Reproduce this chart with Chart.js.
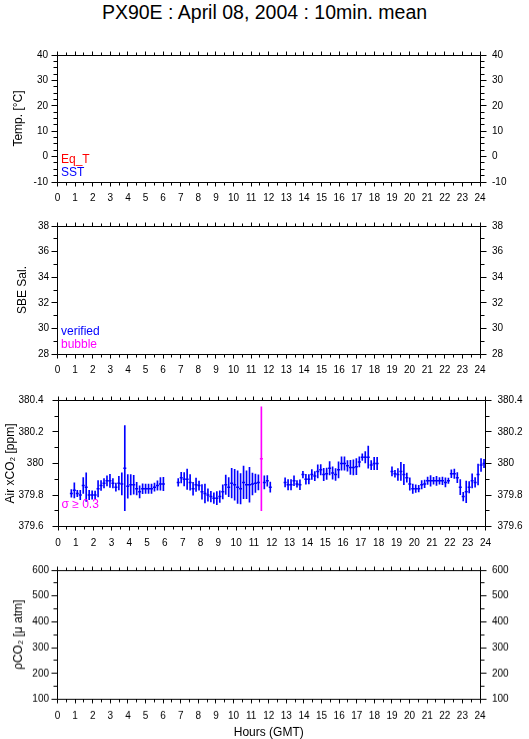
<!DOCTYPE html>
<html>
<head>
<meta charset="utf-8">
<script src="https://cdn.jsdelivr.net/npm/chart.js@4.4.1/dist/chart.umd.min.js"></script>
<style>
  html, body { margin:0; padding:0; background:#fff; width:529px; height:739px; overflow:hidden; }
  #title { position:absolute; left:0; top:1.5px; width:529px; text-align:center;
           font-family:"Liberation Sans", Arial, Helvetica, sans-serif; font-size:19.5px; line-height:20px; color:#000; }
  .panel { position:absolute; left:0; width:529px; }
</style>
</head>
<body>
<div id="title">PX90E : April 08, 2004 : 10min. mean</div>
<div class="panel" style="top:37px;height:173px"><canvas id="cTemp"></canvas></div>
<div class="panel" style="top:208px;height:174px"><canvas id="cSal"></canvas></div>
<div class="panel" style="top:380px;height:175px"><canvas id="cAir"></canvas></div>
<div class="panel" style="top:552px;height:186.5px"><canvas id="cPco2"></canvas></div>
<script>
// ---------------- data ----------------
const hourTicks = [0,1,2,3,4,5,6,7,8,9,10,11,12,13,14,15,16,17,18,19,20,21,22,23,24];
const tempTicks = [-10,0,10,20,30,40];
const salTicks  = [28,30,32,34,36,38];
const xco2Ticks = [379.6,379.8,380,380.2,380.4];
const pco2Ticks = [100,200,300,400,500,600];

// empty series (no data recorded on this day)
const eqT = [];
const sst = [];
const salVerified = [];
const salBubble = [];
const pco2 = [];

// Air xCO2, 10-minute means (hour of slot centre), mean and standard deviation
const xco2Hours = [
  0.75,0.917,1.083,1.25,1.417,1.583,1.75,1.917,2.083,2.25,2.417,2.583,2.75,2.917,3.083,3.25,
  3.417,3.583,3.75,3.917,4.083,4.25,4.417,4.583,4.75,4.917,5.083,5.25,5.417,5.583,5.75,5.917,
  6.75,6.917,7.083,7.25,7.417,7.583,7.75,7.917,8.083,8.25,8.417,8.583,8.75,8.917,9.083,9.25,
  9.417,9.583,9.75,9.917,10.083,10.25,10.417,10.583,10.75,10.917,11.083,11.25,11.417,11.583,11.75,11.917,
  12.75,12.917,13.083,13.25,13.417,13.583,13.75,13.917,14.083,14.25,14.417,14.583,14.75,14.917,15.083,15.25,
  15.417,15.583,15.75,15.917,16.083,16.25,16.417,16.583,16.75,16.917,17.083,17.25,17.417,17.583,17.75,17.917,
  18.75,18.917,19.083,19.25,19.417,19.583,19.75,19.917,20.083,20.25,20.417,20.583,20.75,20.917,21.083,21.25,
  21.417,21.583,21.75,21.917,22.083,22.25,22.417,22.583,22.75,22.917,23.083,23.25,23.417,23.583,23.75,23.917
];
const xco2Mean = [
  379.81,379.83,379.81,379.80,379.86,379.85,379.80,379.80,379.80,379.84,379.86,379.875,379.89,379.89,379.875,379.85,
  379.875,379.87,379.97,379.855,379.865,379.865,379.84,379.82,379.84,379.84,379.84,379.84,379.85,379.86,379.87,379.87,
  379.88,379.91,379.90,379.90,379.88,379.84,379.865,379.86,379.82,379.81,379.80,379.79,379.78,379.78,379.79,379.82,
  379.865,379.85,379.875,379.865,379.85,379.84,379.88,379.865,379.865,379.87,379.875,379.88,380.03,379.88,379.89,379.85,
  379.88,379.865,379.865,379.89,379.87,379.865,379.93,379.90,379.90,379.93,379.92,379.95,379.96,379.93,379.935,379.97,
  379.94,379.93,379.96,380.00,380.00,379.985,379.975,379.975,379.98,380.01,380.04,380.04,380.04,379.99,380.00,380.00,
  379.95,379.935,379.93,379.95,379.93,379.91,379.87,379.84,379.84,379.84,379.865,379.87,379.89,379.89,379.89,379.89,
  379.89,379.89,379.88,379.89,379.935,379.935,379.91,379.85,379.79,379.82,379.85,379.89,379.88,379.93,379.99,380.00
];
const xco2Sigma = [
  0.024,0.048,0.020,0.029,0.050,0.090,0.029,0.027,0.025,0.052,0.031,0.030,0.032,0.042,0.030,0.026,
  0.043,0.070,0.270,0.075,0.065,0.060,0.040,0.039,0.031,0.030,0.030,0.030,0.025,0.030,0.040,0.042,
  0.024,0.034,0.043,0.064,0.050,0.041,0.043,0.029,0.046,0.060,0.039,0.034,0.034,0.041,0.037,0.045,
  0.061,0.060,0.094,0.098,0.103,0.096,0.103,0.089,0.110,0.069,0.058,0.048,0.330,0.042,0.034,0.032,
  0.029,0.033,0.033,0.031,0.021,0.031,0.021,0.031,0.029,0.031,0.029,0.042,0.033,0.039,0.036,0.042,
  0.039,0.038,0.051,0.043,0.043,0.034,0.045,0.048,0.051,0.032,0.021,0.036,0.070,0.029,0.039,0.039,
  0.029,0.022,0.037,0.058,0.065,0.029,0.039,0.030,0.024,0.021,0.026,0.024,0.023,0.034,0.022,0.029,
  0.021,0.024,0.029,0.017,0.025,0.030,0.032,0.048,0.027,0.069,0.036,0.045,0.031,0.066,0.041,0.027
];
const sigmaFlag = 0.3;

// ---------------- style ----------------
const FONT = '"Liberation Sans", Arial, Helvetica, sans-serif';
const BLUE = '#0000ff', RED = '#ff0000', MAGENTA = '#ff00ff';
Chart.defaults.font.family = FONT;
Chart.defaults.color = '#000';

const fmt = v => String(Number(Number(v).toFixed(2)));

// frame + outward tick marks, placed through the chart's own scales
const frameTicks = {
  id: 'frameTicks',
  afterDraw(chart, args, o) {
    const {ctx, chartArea: a, scales} = chart;
    const px = v => Math.floor(v) + 0.5;
    const L = px(a.left), R = px(a.right), T = px(a.top), B = px(a.bottom);
    ctx.save();
    ctx.strokeStyle = '#000';
    ctx.lineWidth = 1;
    ctx.beginPath();
    ctx.rect(L, T, R - L, B - T);
    for (let i = 0; i <= 48; i++) {
      const h = i / 2;
      const x = px(scales.x.getPixelForValue(h));
      const len = (i % 2 === 0) ? 4 : 3;
      ctx.moveTo(x, B); ctx.lineTo(x, B + len);
      ctx.moveTo(x, T); ctx.lineTo(x, T - len);
    }
    const ys = scales.y;
    const n = Math.round((ys.max - ys.min) / o.minor);
    const every = Math.round(o.major / o.minor);
    for (let i = 0; i <= n; i++) {
      const v = ys.min + i * o.minor;
      const y = px(ys.getPixelForValue(v));
      const len = (i % every === 0) ? 6 : 4;
      ctx.moveTo(L - len, y); ctx.lineTo(L, y);
      ctx.moveTo(R, y); ctx.lineTo(R + len, y);
    }
    ctx.stroke();
    ctx.restore();
  }
};

// coloured notes in the lower-left corner of each panel
const panelNotes = {
  id: 'panelNotes',
  afterDraw(chart, args, o) {
    const {ctx, chartArea: a} = chart;
    ctx.save();
    ctx.font = '12px ' + FONT;
    ctx.textAlign = 'left';
    ctx.textBaseline = 'alphabetic';
    (o.items || []).forEach(it => {
      ctx.fillStyle = it.color;
      ctx.fillText(it.text, a.left + 3.5, a.bottom - it.up);
    });
    ctx.restore();
  }
};

function makePanel(id, p) {
  const tickFont = {size: 10, family: FONT};
  const scales = {
    x: {
      type: 'linear', position: 'bottom', min: 0, max: 24, offset: false,
      grid: {display: false, drawTicks: false, offset: false}, border: {display: false},
      ticks: {autoSkip: false, maxRotation: 0, minRotation: 0, padding: 10.5, font: tickFont, color: '#000', callback: fmt},
      afterBuildTicks: s => { s.ticks = hourTicks.map(v => ({value: v})); },
      afterFit: s => { s.height = p.xHeight; },
      title: p.xTitle ? {display: true, text: p.xTitle, color: '#000', font: {size: 12, family: FONT}, padding: {top: 0, bottom: 0}} : {display: false}
    },
    y: {
      type: 'linear', position: 'left', min: p.min, max: p.max, beginAtZero: false,
      grid: {display: false, drawTicks: false}, border: {display: false},
      ticks: {padding: p.leftPad, font: tickFont, color: '#000', callback: fmt},
      afterBuildTicks: s => { s.ticks = p.ticks.map(v => ({value: v})); },
      afterFit: s => { s.width = p.leftW; },
      title: {display: true, text: p.yTitle, color: '#000', font: {size: 12, family: FONT}, padding: {top: p.titlePad, bottom: 0}}
    },
    y2: {
      type: 'linear', position: 'right', min: p.min, max: p.max, beginAtZero: false,
      grid: {display: false, drawTicks: false}, border: {display: false},
      ticks: {padding: 12, font: tickFont, color: '#000', callback: fmt},
      afterBuildTicks: s => { s.ticks = p.ticks.map(v => ({value: v})); },
      afterFit: s => { s.width = p.rightW; }
    }
  };
  return new Chart(document.getElementById(id), {
    type: p.type || 'line',
    data: {datasets: p.datasets},
    options: {
      responsive: true, maintainAspectRatio: false, animation: false, events: [],
      layout: {padding: {top: 8, left: 0, right: 0, bottom: 0}},
      plugins: {
        legend: {display: false}, tooltip: {enabled: false},
        frameTicks: {major: p.major, minor: p.minor},
        panelNotes: {items: p.notes}
      },
      scales
    },
    plugins: [frameTicks, panelNotes]
  });
}

const flagColor = i => xco2Sigma[i] >= sigmaFlag ? MAGENTA : BLUE;

makePanel('cTemp', {
  min: -10, max: 40, ticks: tempTicks, major: 10, minor: 2.5,
  yTitle: 'Temp. [°C]', titlePad: 11.5, leftPad: 9.5, leftW: 57.5, rightW: 49, xHeight: 28,
  datasets: [
    {label: 'Eq_T', data: eqT, borderColor: RED, pointRadius: 0},
    {label: 'SST', data: sst, borderColor: BLUE, pointRadius: 0}
  ],
  notes: [{text: 'Eq_T', color: RED, up: 19.5}, {text: 'SST', color: BLUE, up: 5.6}]
});

makePanel('cSal', {
  min: 28, max: 38, ticks: salTicks, major: 2, minor: 1,
  yTitle: 'SBE Sal.', titlePad: 15.5, leftPad: 8.5, leftW: 57.5, rightW: 49, xHeight: 28,
  datasets: [
    {label: 'verified', data: salVerified, borderColor: BLUE, pointRadius: 0},
    {label: 'bubble', data: salBubble, borderColor: MAGENTA, pointRadius: 0}
  ],
  notes: [{text: 'verified', color: BLUE, up: 19.3}, {text: 'bubble', color: MAGENTA, up: 6}]
});

makePanel('cAir', {
  type: 'bar',
  min: 379.6, max: 380.4, ticks: xco2Ticks, major: 0.2, minor: 0.1,
  yTitle: 'Air xCO\u2082 [ppm]', titlePad: 3, leftPad: 14.5, leftW: 58, rightW: 43.5, xHeight: 28.5,
  datasets: [
    {
      type: 'bar', label: 'xCO2 ±σ',
      data: xco2Hours.map((h, i) => ({x: h, y: [xco2Mean[i] - xco2Sigma[i], xco2Mean[i] + xco2Sigma[i]]})),
      backgroundColor: c => flagColor(c.dataIndex), borderWidth: 0, barThickness: 1, grouped: false
    },
    {
      type: 'scatter', label: 'xCO2 10 min mean',
      data: xco2Hours.map((h, i) => ({x: h, y: xco2Mean[i]})),
      pointStyle: 'line', pointRadius: 1.5, pointBorderWidth: 1.5,
      pointBorderColor: c => flagColor(c.dataIndex), pointBackgroundColor: c => flagColor(c.dataIndex),
      showLine: false
    }
  ],
  notes: [{text: '\u03c3 \u2265 0.3', color: MAGENTA, up: 19}]
});

makePanel('cPco2', {
  min: 100, max: 600, ticks: pco2Ticks, major: 100, minor: 50,
  yTitle: '\u03c1CO\u2082 [\u03bc atm]', titlePad: 11.5, leftPad: 8.5, leftW: 57.5, rightW: 49, xHeight: 40,
  xTitle: 'Hours (GMT)',
  datasets: [
    {label: 'pCO2', data: pco2, borderColor: BLUE, pointRadius: 0}
  ],
  notes: []
});
</script>
</body>
</html>
